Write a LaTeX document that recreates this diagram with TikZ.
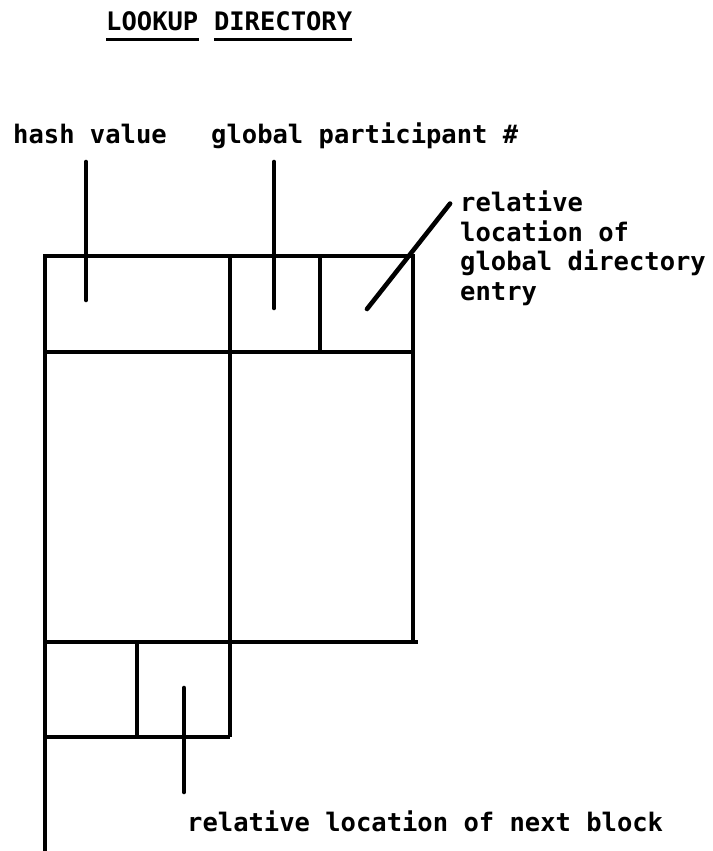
\documentclass[tikz,border=0pt]{standalone}
\usepackage{fontspec}
\setmonofont{DejaVu Sans Mono}
\usetikzlibrary{positioning}
\begin{document}
\begin{tikzpicture}[x=1pt,y=-1pt,
    box/.style={line width=3.4pt},
    pointer/.style={line width=4.6pt,line cap=round},
    lbl/.style={inner sep=0pt,anchor=base west,font=\fontsize{25.5}{29.5}\selectfont\ttfamily\bfseries}]
  \useasboundingbox (0,0) rectangle (712,851);
  % directory block
  \draw[box] (45,851) -- (45,256) -- (413,256) -- (413,642);
  \draw[box] (45,352) -- (413,352);
  \draw[box] (230,256) -- (230,737);
  \draw[box] (320,256) -- (320,352);
  \draw[box] (45,642) -- (418,642);
  \draw[box] (45,737) -- (230,737);
  \draw[box] (137,642) -- (137,737);
  % labels
  \node[lbl] (lookup) at (106,31) {LOOKUP};
  \node[lbl,base right=15.3pt of lookup] (directory) {DIRECTORY};
  \draw[box] ([yshift=-8pt]lookup.south west) -- ([yshift=-8pt]lookup.south east);
  \draw[box] ([yshift=-8pt]directory.south west) -- ([yshift=-8pt]directory.south east);
  \node[lbl] (hashlbl) at (13,143) {hash value};
  \node[lbl] (partlbl) at (211,143) {global participant \#};
  \node[lbl,anchor=north west,align=left] (entrylbl) at (460,191)
    {relative\\location of\\global directory\\entry};
  \node[lbl] (nextlbl) at (187,831) {relative location of next block};
  % pointers
  \coordinate (hashtip) at (86,300);
  \coordinate (parttip) at (274,308);
  \coordinate (entrytip) at (367,309);
  \coordinate (nexttip) at (184,688);
  \draw[pointer,shorten <=19pt] (hashlbl.base -| hashtip) -- (hashtip);
  \draw[pointer,shorten <=19pt] (partlbl.base -| parttip) -- (parttip);
  \draw[pointer,shorten >=16pt] (entrytip) -- (entrylbl.north west);
  \draw[pointer,shorten >=39pt] (nexttip) -- (nextlbl.base -| nexttip);
\end{tikzpicture}
\end{document}
